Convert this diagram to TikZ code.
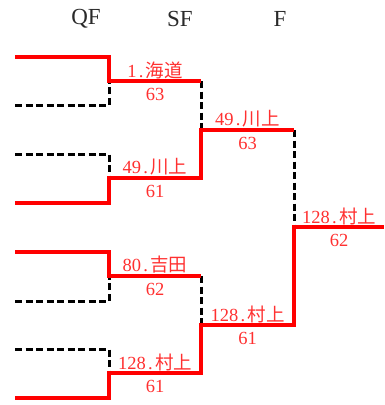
\documentclass[tikz,border=0pt]{standalone}
\usepackage{fontspec}
\setmainfont{Liberation Serif}
\newfontfamily\cjk{Noto Sans CJK JP}
\newcommand\hdot{\makebox[0.5em][c]{.}}
\definecolor{labred}{HTML}{FF3030}
\definecolor{headgray}{HTML}{2A2A2A}
\begin{document}
\begin{tikzpicture}[x=1pt,y=-1pt,
  win/.style={draw=red, line width=4.5pt},
  lose/.style={draw=black, line width=3pt, dash pattern=on 7pt off 3.5pt},
  lab/.style={text=labred, font=\fontsize{18.5}{18.5}\selectfont, inner sep=0pt},
  head/.style={text=headgray, font=\fontsize{23}{23}\selectfont, inner sep=0pt}]
\useasboundingbox (0,0) rectangle (384,405);
% headers
\node[head] (hqf) at (86,19) {QF};
\node[head] (hsf) at (180,19) {SF};
\node[head] (hf) at (280,19) {F};
% entrants
\coordinate (a1) at (15,57);
\coordinate (a2) at (15,105);
\coordinate (a3) at (15,154);
\coordinate (a4) at (15,203);
\coordinate (a5) at (15,252);
\coordinate (a6) at (15,301);
\coordinate (a7) at (15,349);
\coordinate (a8) at (15,398);
% match points
\coordinate (q1) at (109,81);
\coordinate (q2) at (109,178);
\coordinate (q3) at (109,276);
\coordinate (q4) at (109,373);
\coordinate (s1) at (201,130);
\coordinate (s2) at (201,325);
\coordinate (f) at (294,227);
\coordinate (fend) at (384,227);
% QF losers (dashed)
\draw[lose] (a2) -| (q1);
\draw[lose] (a3) -| (q2);
\draw[lose] (a6) -| (q3);
\draw[lose] (a7) -| (q4);
% SF losers
\draw[lose] (q1 -| s1) -- (s1);
\draw[lose] (q3 -| s2) -- (s2);
% F loser
\draw[lose] (s1 -| f) -- (f);
% winners
\draw[win] (a1) -| (q1) -- (q1 -| s1);
\draw[win] (a4) -| (q2) -- (q2 -| s1) -- (s1) -- (s1 -| f);
\draw[win] (a5) -| (q3) -- (q3 -| s2);
\draw[win] (a8) -| (q4) -- (q4 -| s2) -- (s2) -- (s2 -| f) -- (f) -- (fend);
% labels
\node[lab] (l1) at (155,70) {1\hdot{\cjk 海道}};
\node[lab] (l1s) at (155,94) {63};
\node[lab] (l2) at (155,167) {49\hdot{\cjk 川上}};
\node[lab] (l2s) at (155,191) {61};
\node[lab] (l3) at (155,265) {80\hdot{\cjk 吉田}};
\node[lab] (l3s) at (155,289) {62};
\node[lab] (l4) at (155,362) {128\hdot{\cjk 村上}};
\node[lab] (l4s) at (155,386) {61};
\node[lab] (l5) at (247.5,119) {49\hdot{\cjk 川上}};
\node[lab] (l5s) at (247.5,143) {63};
\node[lab] (l6) at (247.5,314) {128\hdot{\cjk 村上}};
\node[lab] (l6s) at (247.5,338) {61};
\node[lab] (l7) at (339,216) {128\hdot{\cjk 村上}};
\node[lab] (l7s) at (339,240) {62};
\end{tikzpicture}
\end{document}
